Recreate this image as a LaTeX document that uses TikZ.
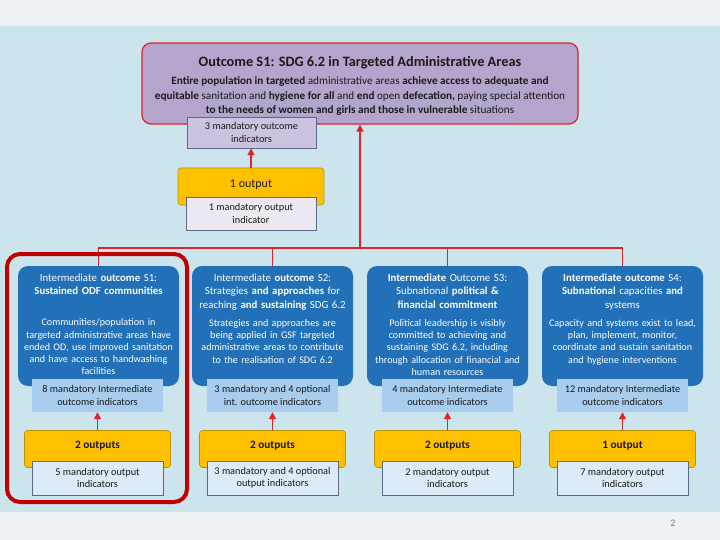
\documentclass[tikz,border=0pt]{standalone}
\usepackage{fontspec}
\setmainfont{Carlito}
\usetikzlibrary{arrows.meta}
\definecolor{bgblue}{HTML}{CCE5ED}
\definecolor{bandgray}{HTML}{EEF2F5}
\definecolor{lineRed}{HTML}{E0202B}
\definecolor{frameRed}{HTML}{C00000}
\definecolor{outPurple}{HTML}{B4A5CD}
\definecolor{indPurple}{HTML}{CBC3DF}
\definecolor{paleLav}{HTML}{EDE9F3}
\definecolor{goldFill}{HTML}{FFC000}
\definecolor{goldEdge}{HTML}{B8900A}
\definecolor{boxBlue}{HTML}{2170B8}
\definecolor{indBlue}{HTML}{A9CDEF}
\definecolor{paleBlue}{HTML}{DCEBF7}
\definecolor{edgeGray}{HTML}{5A6A88}
\definecolor{txtDark}{HTML}{1A1A1A}
\begin{document}
\begin{tikzpicture}[x=1pt,y=-1pt,
  topbox/.style={draw=lineRed, fill=outPurple, rounded corners=9pt, line width=1.2pt, minimum width=436pt, minimum height=81pt},
  purpind/.style={draw=edgeGray, fill=indPurple, line width=0.5pt, minimum width=129pt, minimum height=31pt},
  goldbox/.style={draw=goldEdge, fill=goldFill, rounded corners=3pt, line width=0.6pt, minimum width=146pt, minimum height=37pt},
  lavind/.style={draw=edgeGray, fill=paleLav, line width=0.5pt, minimum width=130pt, minimum height=33pt},
  bluebox/.style={fill=boxBlue, rounded corners=10pt, minimum width=161pt, minimum height=120pt},
  blueind/.style={fill=indBlue, minimum width=131pt, minimum height=33pt},
  paleind/.style={draw=edgeGray, fill=paleBlue, line width=0.5pt, minimum width=131pt, minimum height=34pt},
  ytxt/.style={font=\fontsize{11.3}{12}\selectfont\bfseries, text=txtDark},
  itxt/.style={font=\fontsize{10.3}{12.5}\selectfont, text=txtDark, align=center, inner sep=0pt},
  ttxt/.style={font=\fontsize{10.8}{13.2}\selectfont, text=white, align=center, anchor=north, text width=160pt, inner sep=0pt},
  btxt/.style={font=\fontsize{10.1}{12.3}\selectfont, text=white, align=center, anchor=north, text width=160pt, inner sep=0pt},
  redline/.style={draw=lineRed, line width=1.4pt},
  redarrow/.style={draw=lineRed, line width=1.4pt, -{Triangle[length=7pt,width=7pt]}}
]
\useasboundingbox (0,0) rectangle (720,540);
% background
\fill[bandgray] (0,0) rectangle (720,540);
\fill[bgblue] (0,26) rectangle (720,512);
\node[text=gray, font=\fontsize{10}{12}\selectfont] (pagenum) at (673,523) {2};

% top outcome
\node[topbox] (top) at (360,83.5) {};
\node[font=\fontsize{14.3}{16}\selectfont\bfseries, text=txtDark] (toptitle) at (360,62.5) {Outcome S1: SDG 6.2 in Targeted Administrative Areas};
\node[font=\fontsize{11.2}{14.5}\selectfont, text=txtDark, align=center, anchor=north, inner sep=0pt] (topbody) at (360,76.5)
 {\textbf{Entire population in targeted} administrative areas \textbf{achieve access to adequate and}\\
  \textbf{equitable} sanitation and \textbf{hygiene for all} and \textbf{end} open \textbf{defecation,} paying special attention\\
  \textbf{to the needs of women and girls and those in vulnerable} situations};
\node[purpind] (topind) at (251.5,132.5) {};
\node[itxt] (topindt) at (topind) {3 mandatory outcome\\indicators};

\node[goldbox] (topgold) at (251,186.5) {};
\node[font=\fontsize{12}{14}\selectfont, text=txtDark] (topgoldt) at (251,184.5) {1 output};
\node[lavind] (topout) at (251,213.5) {};
\node[itxt] (topoutt) at (topout) {1 mandatory output\\indicator};
\draw[redarrow] (topgold.north) -- (topind.south -| topgold.north);

% hub
\coordinate (hub) at (360,248);
\draw[redarrow] (hub) -- (top.south);

% intermediate boxes
\foreach \n/\cx in {1/98.5, 2/272.5, 3/447.5, 4/622.5}{
  \node[bluebox] (s\n) at (\cx,326) {};
}
\draw[redline] (s1.north) -- (s1.north |- hub) -- (s4.north |- hub) -- (s4.north);
\draw[redline] (s2.north) -- (s2.north |- hub);
\draw[redline] (s3.north) -- (s3.north |- hub);

% titles and bodies
\node[ttxt] (t1) at (98.5,274) {Intermediate \textbf{outcome} S1:\\\textbf{Sustained ODF communities}};
\node[btxt] (b1) at (98.5,318.5) {Communities/population in\\targeted administrative areas have\\ended OD, use improved sanitation\\and have access to handwashing\\facilities};
\node[ttxt] (t2) at (272.5,274) {Intermediate \textbf{outcome} S2:\\Strategies \textbf{and approaches} for\\reaching \textbf{and sustaining} SDG 6.2};
\node[btxt] (b2) at (272.5,319) {Strategies and approaches are\\being applied in GSF targeted\\administrative areas to contribute\\to the realisation of SDG 6.2};
\node[ttxt] (t3) at (447.5,274) {\textbf{Intermediate} Outcome S3:\\Subnational \textbf{political \&}\\\textbf{financial commitment}};
\node[btxt] (b3) at (447.5,319) {Political leadership is visibly\\committed to achieving and\\sustaining SDG 6.2, including\\through allocation of financial and\\human resources};
\node[ttxt] (t4) at (622.5,274) {\textbf{Intermediate outcome} S4:\\\textbf{Subnational} capacities \textbf{and}\\systems};
\node[btxt] (b4) at (622.5,319) {Capacity and systems exist to lead,\\plan, implement, monitor,\\coordinate and sustain sanitation\\and hygiene interventions};

% indicators, outputs
\foreach \n/\cx/\ia/\ib/\oa/\ob/\ot in {
  1/97.5/8 mandatory Intermediate/outcome indicators/5 mandatory output/indicators/2 outputs,
  2/272.5/3 mandatory and 4 optional/int. outcome indicators/3 mandatory and 4 optional/output indicators/2 outputs,
  3/447.5/4 mandatory Intermediate/outcome indicators/2 mandatory output/indicators/2 outputs,
  4/622.5/12 mandatory Intermediate/outcome indicators/7 mandatory output/indicators/1 output}{
  \node[blueind] (i\n) at (\cx,395.5) {};
  \node[itxt] (it\n) at (i\n) {\ia\\\ib};
  \node[goldbox] (g\n) at (\cx,449) {};
  \node[ytxt] (gt\n) at (\cx,445.5) {\ot};
  \node[paleind] (o\n) at (\cx,478) {};
  \node[itxt] (ot\n) at (o\n) {\oa\\\ob};
  \draw[redarrow] (g\n.north) -- (i\n.south);
}

% highlight frame
\draw[frameRed, line width=4pt, rounded corners=13pt] (7,254) rectangle (187,502);
\end{tikzpicture}
\end{document}
